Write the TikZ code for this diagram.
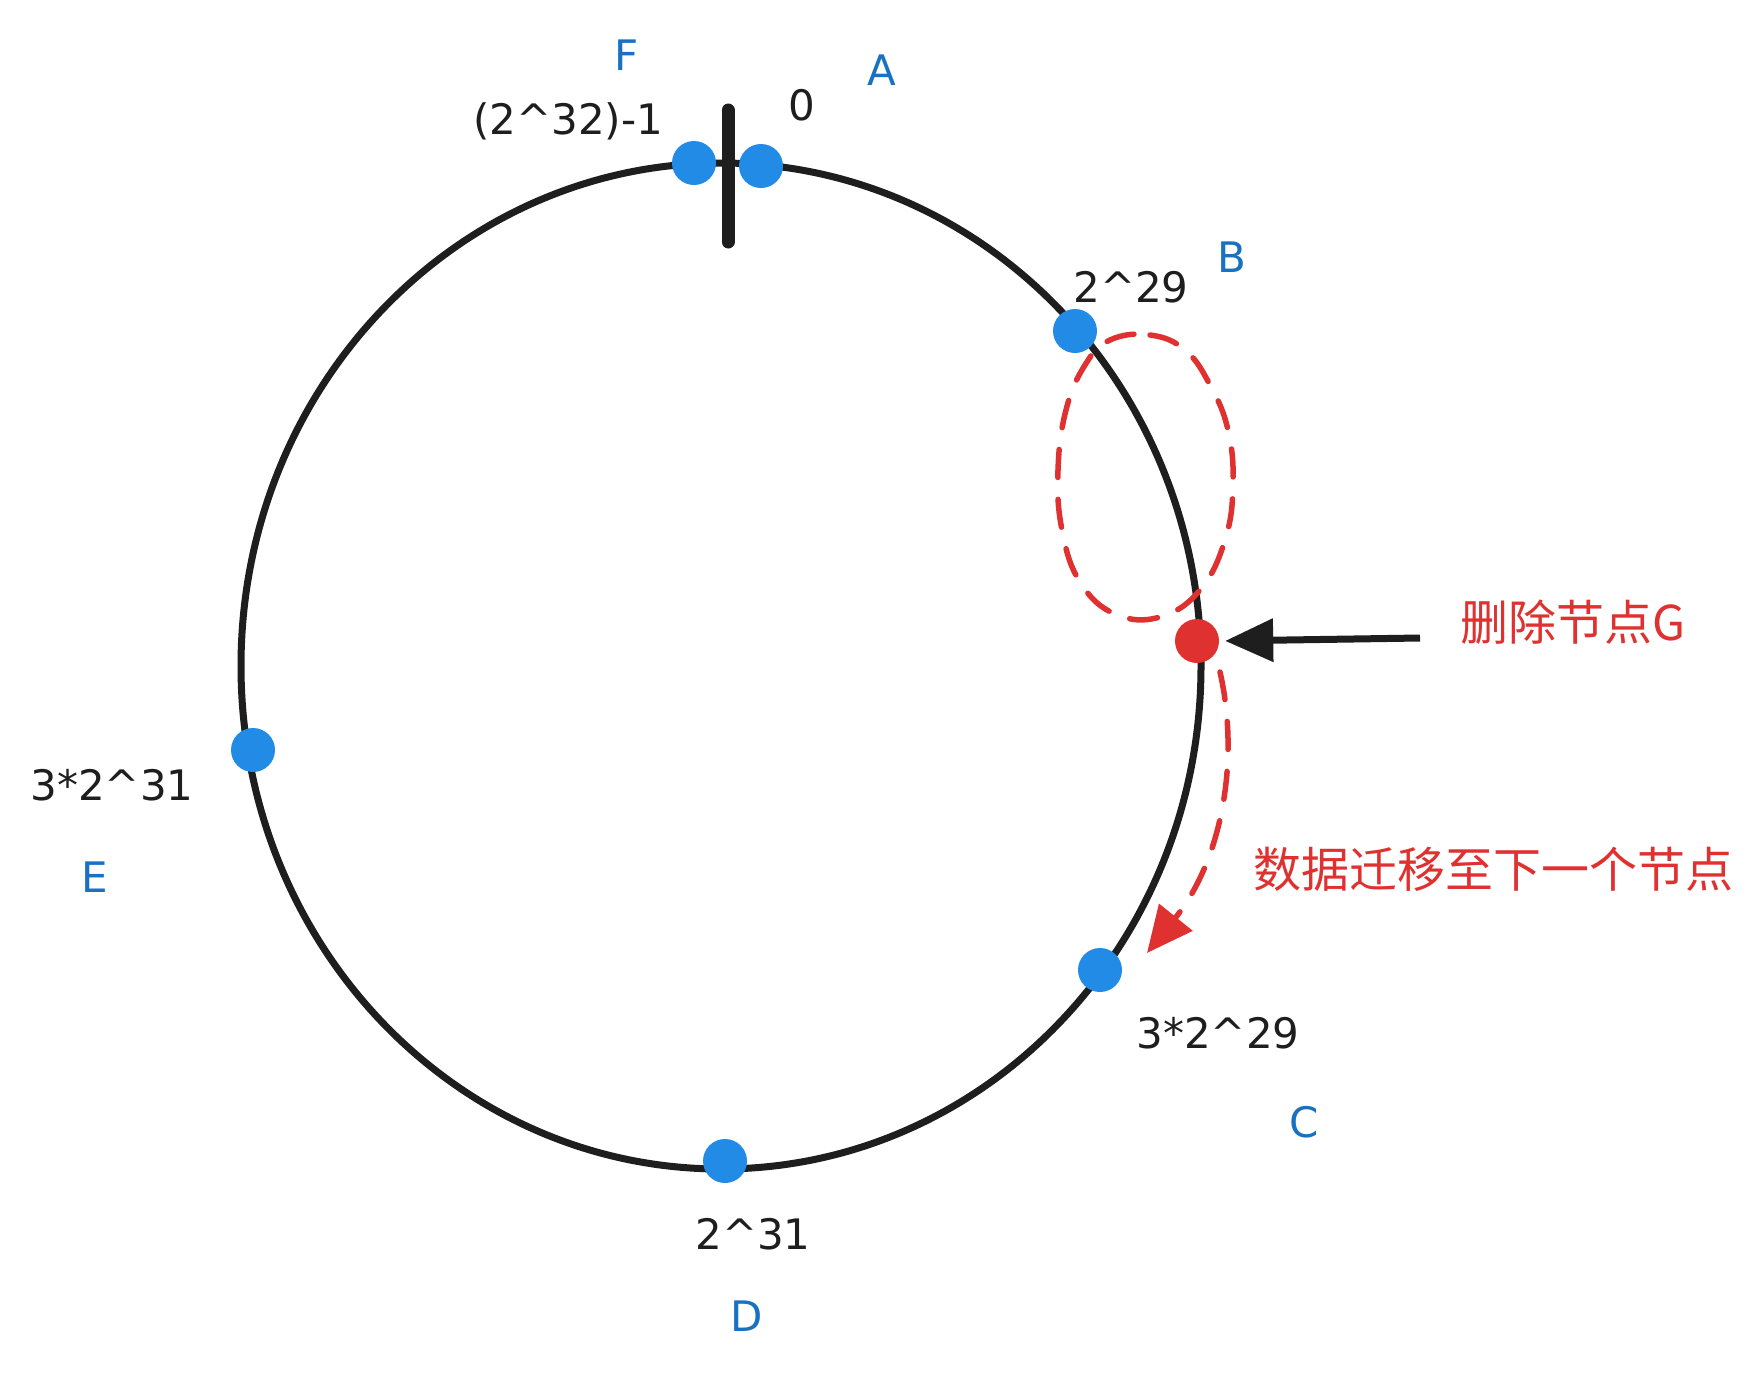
\documentclass[tikz,border=0pt]{standalone}
\usepackage{fontspec}
\setmainfont{DejaVu Sans}
\newfontfamily\cjk{Noto Sans CJK SC}
\usetikzlibrary{arrows.meta}
\definecolor{ink}{HTML}{1E1E1E}
\definecolor{dotblue}{HTML}{228BE6}
\definecolor{txtblue}{HTML}{1971C2}
\definecolor{redc}{HTML}{E03131}
\tikzset{
  ring/.style={draw=ink, line width=7pt},
  bluedot/.style={circle, fill=dotblue, minimum size=44pt, inner sep=0pt},
  reddot/.style={circle, fill=redc, minimum size=44pt, inner sep=0pt},
  numlabel/.style={text=ink, font=\fontsize{42}{50}\selectfont, inner sep=0pt},
  letlabel/.style={text=txtblue, font=\fontsize{42}{50}\selectfont, inner sep=0pt},
  cnlabel/.style={text=redc, font=\cjk\fontsize{48}{56}\selectfont, inner sep=0pt},
  reddash/.style={draw=redc, line width=5.5pt, line cap=round, dash pattern=on 28pt off 22pt},
  blackarrow/.style={draw=ink, line width=7pt, -{Triangle[length=48pt, width=42pt]}},
}
\begin{document}
\begin{tikzpicture}[x=1pt, y=-1pt]
\useasboundingbox[fill=white] (0,0) rectangle (1763,1379);

% ring
\draw[ring] (721,666) ellipse [x radius=480pt, y radius=503pt];

% zero mark
\coordinate (tickT) at (728,110);
\coordinate (tickB) at (728,242);
\draw[draw=ink, line width=13pt, line cap=round] (tickT) -- (tickB);

% nodes on ring
\node[bluedot] (F) at (694,163) {};
\node[bluedot] (A) at (761,166) {};
\node[bluedot] (B) at (1075,331) {};
\node[reddot]  (G) at (1197,641) {};
\node[bluedot] (C) at (1100,970) {};
\node[bluedot] (D) at (725,1161) {};
\node[bluedot] (E) at (253,750) {};

% labels
\node[letlabel] (lF) at (627,55) {F};
\node[letlabel] (lA) at (882,70) {A};
\node[numlabel] (l0) at (802,105) {0};
\node[numlabel] (lF2) at (568,121) {(2\textasciicircum 32)-1};
\node[letlabel] (lB) at (1232,257) {B};
\node[numlabel] (lB2) at (1131,287) {2\textasciicircum 29};
\node[numlabel] (lC2) at (1218,1033) {3*2\textasciicircum 29};
\node[letlabel] (lC) at (1304,1122) {C};
\node[numlabel] (lD2) at (753,1234) {2\textasciicircum 31};
\node[letlabel] (lD) at (747,1316) {D};
\node[numlabel] (lE2) at (112,785) {3*2\textasciicircum 31};
\node[letlabel] (lE) at (95,877) {E};

\node[cnlabel] (del) at (1573,622) {删除节点G};
\node[cnlabel] (mig) at (1493,869) {数据迁移至下一个节点};

% black arrow to G
\coordinate (gin) at (1420,638);
\draw[blackarrow, shorten >=6pt] (gin) -- (G.east);

% red dashed loop around B..G arc
\draw[reddash] plot[smooth cycle, tension=0.7] coordinates {
  (1110,340) (1150,335) (1185,350) (1210,385) (1228,430) (1233,485)
  (1225,540) (1200,590) (1160,617) (1115,614) (1080,582) (1062,530)
  (1058,470) (1066,410) (1085,365)};

% red dashed migration arrow
\coordinate (mstart) at (1220,672);
\coordinate (mtip) at (1147,953);
\draw[reddash, -{Triangle[length=46pt, width=42pt]}] (mstart) .. controls (1240,760) and (1222,860) .. (mtip);
\end{tikzpicture}
\end{document}
